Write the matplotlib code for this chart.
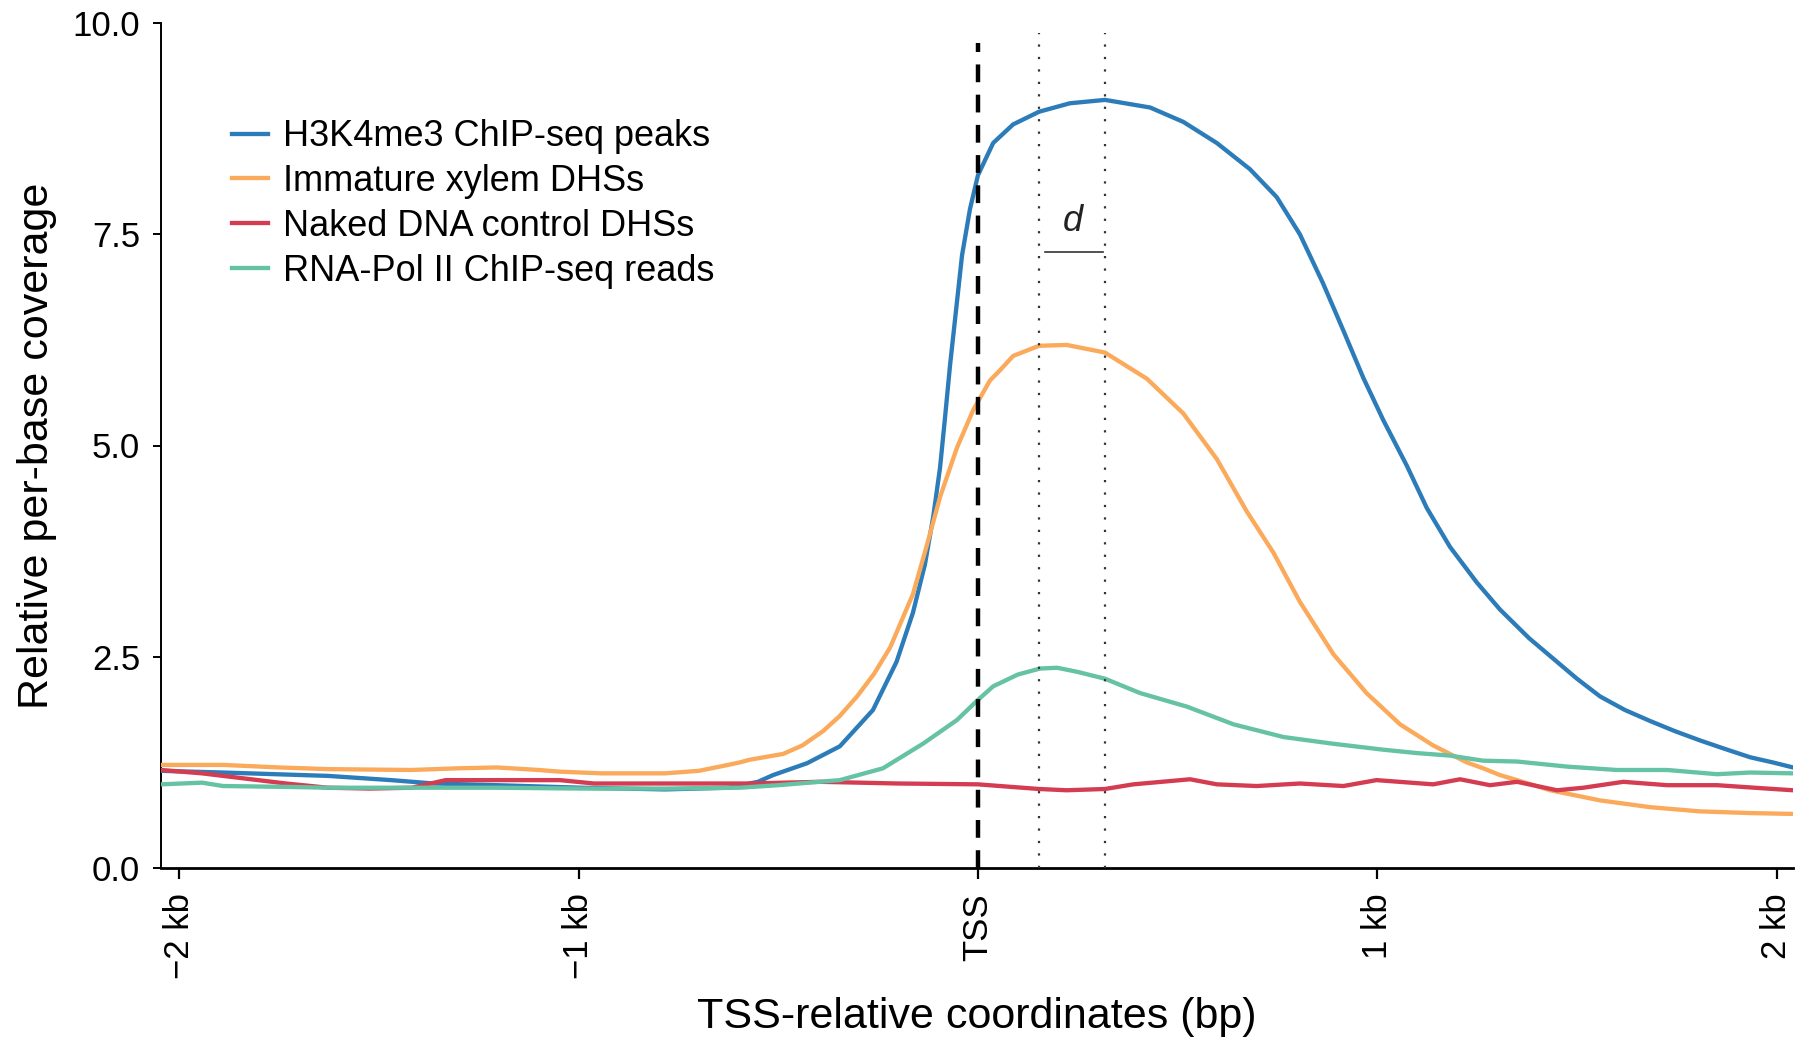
import matplotlib
matplotlib.use("Agg")
import matplotlib.pyplot as plt

plt.rcParams['font.family'] = ['Liberation Sans', 'DejaVu Sans']

# ---------------- data ----------------
series_labels = ["H3K4me3 ChIP-seq peaks", "Immature xylem DHSs",
                 "Naked DNA control DHSs", "RNA-Pol II ChIP-seq reads"]

h3k4_x = [-2046, -1891, -1628, -1470, -1363, -1205, -994, -784, -626, -551, -513,
          -428, -346, -263, -204, -163, -133, -112, -95, -83, -70, -55, -40, -20,
          0, 38, 88, 153, 230, 318, 431, 514, 598, 681, 748, 806, 864, 915, 965,
          1015, 1074, 1124, 1182, 1249, 1307, 1380, 1440, 1500, 1558, 1620, 1683,
          1745, 1808, 1870, 1934, 1990, 2041]
h3k4_y = [1.15, 1.13, 1.09, 1.04, 1.00, 0.98, 0.95, 0.93, 0.95, 1.02, 1.10,
          1.24, 1.44, 1.87, 2.44, 3.02, 3.59, 4.16, 4.74, 5.31, 5.95, 6.60, 7.25, 7.80,
          8.20, 8.58, 8.80, 8.95, 9.05, 9.09, 9.00, 8.83, 8.58, 8.27, 7.94, 7.50, 6.92, 6.36, 5.80,
          5.30, 4.76, 4.26, 3.80, 3.38, 3.06, 2.72, 2.48, 2.24, 2.03, 1.87, 1.74,
          1.62, 1.51, 1.41, 1.31, 1.25, 1.19]

xylem_x = [-2046, -1891, -1750, -1628, -1418, -1300, -1205, -1100, -1047, -942, -784,
           -699, -626, -596, -573, -488, -440, -388, -346, -303, -260, -220, -163,
           -128, -95, -53, -12, 30, 55, 88, 153, 222, 318, 423, 514, 598, 673, 740,
           806, 890, 973, 1057, 1140, 1224, 1265, 1307, 1350, 1433, 1558, 1683, 1808,
           1934, 2041]
xylem_y = [1.22, 1.22, 1.19, 1.17, 1.16, 1.18, 1.19, 1.16, 1.14, 1.12, 1.12,
           1.15, 1.22, 1.25, 1.28, 1.35, 1.45, 1.62, 1.80, 2.03, 2.30, 2.61, 3.24,
           3.82, 4.39, 4.97, 5.42, 5.77, 5.89, 6.06, 6.18, 6.19, 6.10, 5.79, 5.38, 4.84, 4.22, 3.73,
           3.15, 2.53, 2.07, 1.70, 1.45, 1.25, 1.18, 1.10, 1.04, 0.92, 0.80, 0.72, 0.67,
           0.65, 0.64]

naked_x = [-2046, -1943, -1838, -1733, -1628, -1523, -1418, -1333, -1205, -1047, -962,
           -784, -573, -396, -200, 0, 55, 153, 222, 318, 389, 460, 531, 598, 698,
           806, 915, 998, 1140, 1207, 1282, 1350, 1450, 1516, 1616, 1726, 1851, 1976, 2041]
naked_y = [1.16, 1.12, 1.06, 1.00, 0.95, 0.94, 0.95, 1.04, 1.04, 1.04, 1.00,
           1.00, 1.00, 1.02, 1.00, 0.99, 0.97, 0.935, 0.92, 0.935, 0.99, 1.02, 1.05, 0.99, 0.97,
           1.00, 0.97, 1.04, 0.99, 1.05, 0.98, 1.02, 0.92, 0.95, 1.02, 0.98, 0.98, 0.94, 0.92]

polii_x = [-2046, -1943, -1891, -1733, -1628, -1418, -1205, -994, -784, -596, -500,
           -346, -238, -138, -53, 0, 38, 100, 155, 198, 250, 318, 406, 523, 640,
           765, 890, 1015, 1099, 1182, 1265, 1350, 1475, 1600, 1726, 1851, 1934, 2041]
polii_y = [0.99, 1.01, 0.97, 0.96, 0.95, 0.95, 0.95, 0.94, 0.94, 0.95, 0.98,
           1.04, 1.18, 1.47, 1.75, 1.99, 2.15, 2.29, 2.36, 2.37, 2.32, 2.24, 2.07, 1.91, 1.70,
           1.55, 1.47, 1.40, 1.36, 1.33, 1.27, 1.26, 1.20, 1.16, 1.16, 1.11, 1.13, 1.12]

xtick_pos = [-2000, -1000, 0, 1000, 2000]
xtick_labels = ["\u22122 kb", "\u22121 kb", "TSS", "1 kb", "2 kb"]
ytick_pos = [0.0, 2.5, 5.0, 7.5, 10.0]

tss_pos = 0
d_bounds = [153, 318]

colors = ["#2c7cba", "#fbaa5c", "#d43d51", "#66c2a5"]

# ---------------- figure ----------------
fig = plt.figure(figsize=(18.03, 10.39), dpi=100)
ax = fig.add_axes([161 / 1803, 1 - 868 / 1039, (1793 - 161) / 1803, 845 / 1039])

lw = 3.1
ax.plot(h3k4_x, h3k4_y, color=colors[0], lw=lw, label=series_labels[0], zorder=3)
ax.plot(xylem_x, xylem_y, color=colors[1], lw=lw, label=series_labels[1], zorder=3)
ax.plot(naked_x, naked_y, color=colors[2], lw=lw, label=series_labels[2], zorder=3)
ax.plot(polii_x, polii_y, color=colors[3], lw=lw, label=series_labels[3], zorder=3)

# TSS dashed line and the d markers
ax.plot([tss_pos, tss_pos], [0, 9.76], color="black", lw=3.2,
        linestyle=(0, (4.0, 2.8)), zorder=4, solid_capstyle='butt')
for xv in d_bounds:
    ax.plot([xv, xv], [0, 9.88], color="#333333", lw=1.6,
            linestyle=(0, (1, 4.6)), zorder=4)
ax.plot([d_bounds[0] + 15, d_bounds[1] - 5], [7.29, 7.29], color="#333333", lw=1.2, zorder=4)
ax.text(sum(d_bounds) / 2 + 3, 7.65, "d", fontsize=26, fontstyle="italic",
        ha="center", va="center", color="#222222")

ax.set_xlim(-2046, 2041)
ax.set_ylim(0, 10)

ax.set_xticks(xtick_pos)
ax.set_xticklabels(xtick_labels, rotation=90, fontsize=25)
ax.set_yticks(ytick_pos)
ax.set_yticklabels([f"{v:.1f}" for v in ytick_pos], fontsize=25)

for s in ["top", "right"]:
    ax.spines[s].set_visible(False)
ax.spines["bottom"].set_linewidth(2.0)
ax.spines["left"].set_linewidth(1.4)
ax.tick_params(axis="x", direction="out", length=8, width=1.6, pad=10, colors="black")
ax.tick_params(axis="y", direction="out", length=6, width=1.4, pad=9, colors="black")

ax.set_xlabel("TSS-relative coordinates (bp)", fontsize=31)
ax.xaxis.set_label_coords(0.5, -0.153)
ax.set_ylabel("Relative per-base coverage", fontsize=31)
ax.yaxis.set_label_coords(-0.064, 0.5)

leg = ax.legend(loc="upper left", bbox_to_anchor=(0.0435, 0.886), frameon=False,
                fontsize=26, handlelength=1.0, handletextpad=0.41,
                labelspacing=0.27, borderpad=0, borderaxespad=0)

fig.savefig("out.png", dpi=100, facecolor="white")
